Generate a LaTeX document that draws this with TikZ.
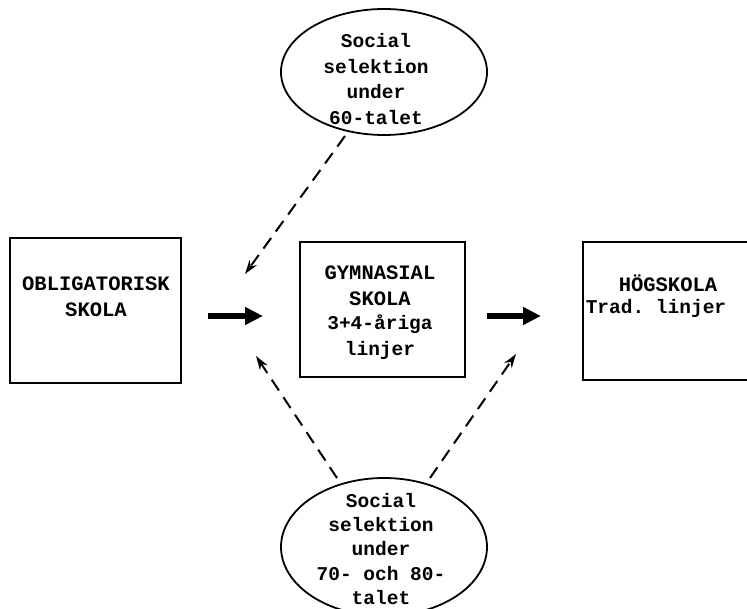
\documentclass[tikz,border=0pt]{standalone}
\usepackage{fontspec}
\setmonofont{Liberation Mono}
\usetikzlibrary{shapes.geometric,arrows.meta}
\begin{document}
\begin{tikzpicture}[x=1pt,y=-1pt,
  txt/.style={font=\ttfamily\bfseries\fontsize{19.5}{25.5}\selectfont, align=center, inner sep=0pt},
  btxt/.style={txt, font=\ttfamily\bfseries\fontsize{20.5}{26}\selectfont},
  box/.style={draw, line width=2pt, rectangle, inner sep=0pt},
  oval/.style={draw, line width=1.8pt, ellipse, inner sep=0pt},
  thick arrow/.style={line width=6pt, -{Triangle[length=18pt,width=17pt]}},
  dash arrow/.style={line width=2pt, dash pattern=on 13pt off 8pt, -{Stealth[length=14pt,width=9pt]}}]
\useasboundingbox (0,0) rectangle (747,609);
\clip (0,0) rectangle (747,609);
% boxes
\node[box, minimum width=171pt, minimum height=145pt] (obl) at (95,311) {};
\node[box, minimum width=165pt, minimum height=135pt] (gym) at (382.5,309.5) {};
\node[box, minimum width=200pt, minimum height=138pt] (hog) at (683,311) {};
% box texts
\node[btxt] (oblt) at (96,297) {OBLIGATORISK\\SKOLA};
\node[btxt] (gymt) at (380,286) {GYMNASIAL\\SKOLA};
\node[txt] (gymt2) at (380,337) {3+4-åriga\\linjer};
\node[btxt] (hogt) at (668,283) {HÖGSKOLA};
\node[txt] (hogt2) at (656,308) {Trad. linjer};
% ellipses
\node[oval, minimum width=206pt, minimum height=126pt] (top) at (384,72) {};
\node[oval, minimum width=206pt, minimum height=138pt] (bot) at (384,547) {};
\node[txt] (topt) at (376,79) {Social\\selektion\\under\\60-talet};
\node[txt, font=\ttfamily\bfseries\fontsize{19.5}{24.3}\selectfont] (bott) at (381,549) {Social\\selektion\\under\\70- och 80-\\talet};
% connectors
\coordinate (a1s) at (208,316); \coordinate (a1e) at (263,316);
\coordinate (a2s) at (487,316); \coordinate (a2e) at (541,316);
\draw[thick arrow] (a1s) -- (a1e);
\draw[thick arrow] (a2s) -- (a2e);
\coordinate (d1s) at (345,136); \coordinate (d1e) at (245,274);
\coordinate (d2s) at (337,478); \coordinate (d2e) at (256,356);
\coordinate (d3s) at (430,478); \coordinate (d3e) at (516,354);
\draw[dash arrow] (d1s) -- (d1e);
\draw[dash arrow] (d2s) -- (d2e);
\draw[dash arrow] (d3s) -- (d3e);
\end{tikzpicture}
\end{document}
